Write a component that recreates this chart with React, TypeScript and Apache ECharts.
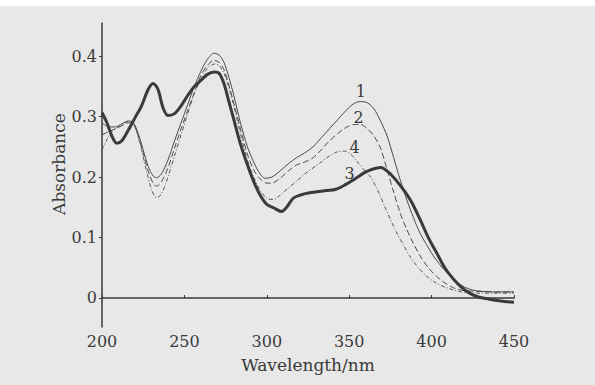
import React, { useEffect, useRef } from "react";
import * as echarts from "echarts";

// Curve 1 (thin solid)
const wl1 = [200, 204, 208, 212, 216, 219, 222, 225, 228, 231, 233, 236, 240, 244, 248, 252, 256, 260, 264, 268, 271, 274, 277, 280, 284, 288, 292, 296, 299, 303, 308, 313, 318, 323, 328, 333, 338, 343, 348, 353, 357, 361, 365, 369, 373, 377, 381, 385, 389, 393, 397, 401, 405, 410, 415, 420, 425, 430, 440, 450];
const abs1 = [0.29, 0.283, 0.283, 0.288, 0.293, 0.29, 0.272, 0.245, 0.218, 0.202, 0.199, 0.205, 0.228, 0.26, 0.29, 0.32, 0.35, 0.375, 0.395, 0.405, 0.402, 0.39, 0.365, 0.335, 0.29, 0.252, 0.225, 0.205, 0.198, 0.2, 0.21, 0.222, 0.232, 0.24, 0.25, 0.265, 0.28, 0.295, 0.31, 0.322, 0.325, 0.323, 0.313, 0.293, 0.268, 0.232, 0.195, 0.162, 0.133, 0.107, 0.088, 0.07, 0.055, 0.04, 0.027, 0.018, 0.013, 0.011, 0.01, 0.01];

// Curve 2 (dashed)
const wl2 = [200, 204, 208, 212, 216, 219, 222, 225, 228, 231, 233, 236, 240, 244, 248, 252, 256, 260, 264, 268, 271, 274, 277, 280, 284, 288, 292, 296, 300, 303, 308, 313, 318, 323, 328, 333, 338, 343, 348, 353, 357, 361, 365, 369, 373, 377, 381, 385, 389, 393, 398, 403, 408, 414, 420, 430, 440, 450];
const abs2 = [0.27, 0.275, 0.28, 0.285, 0.29, 0.288, 0.268, 0.24, 0.21, 0.19, 0.185, 0.192, 0.215, 0.248, 0.28, 0.31, 0.34, 0.368, 0.385, 0.393, 0.39, 0.378, 0.352, 0.322, 0.28, 0.24, 0.212, 0.197, 0.19, 0.19, 0.198, 0.21, 0.22, 0.225, 0.232, 0.245, 0.26, 0.272, 0.282, 0.287, 0.287, 0.28, 0.268, 0.248, 0.212, 0.175, 0.14, 0.113, 0.09, 0.07, 0.05, 0.036, 0.025, 0.016, 0.012, 0.011, 0.01, 0.01];

// Curve 3 (thick solid)
const wl3 = [200, 203, 206, 209, 212, 216, 220, 224, 228, 231, 234, 237, 240, 244, 248, 252, 256, 260, 264, 268, 271, 274, 277, 280, 284, 288, 292, 296, 300, 305, 309, 312, 316, 320, 326, 334, 342, 348, 354, 359, 364, 369, 374, 379, 384, 388, 393, 398, 403, 408, 413, 418, 423, 428, 435, 442, 450];
const abs3 = [0.307, 0.29, 0.268, 0.256, 0.26, 0.278, 0.298, 0.318, 0.345, 0.355, 0.345, 0.315, 0.302, 0.305, 0.318, 0.335, 0.35, 0.36, 0.37, 0.374, 0.372, 0.355, 0.325, 0.295, 0.255, 0.222, 0.193, 0.17, 0.155, 0.148, 0.143, 0.15, 0.165, 0.17, 0.174, 0.177, 0.18, 0.188, 0.198, 0.207, 0.213, 0.216, 0.208, 0.193, 0.175, 0.158, 0.13, 0.1, 0.075, 0.05, 0.032, 0.018, 0.008, 0.002, -0.002, -0.005, -0.007];

// Curve 4 (dash-dot)
const wl4 = [200, 203, 206, 210, 214, 218, 221, 224, 227, 230, 233, 236, 240, 244, 248, 252, 256, 260, 264, 268, 271, 274, 277, 280, 284, 288, 292, 296, 300, 304, 308, 313, 318, 323, 328, 333, 338, 343, 347, 351, 355, 359, 363, 367, 371, 375, 379, 383, 387, 392, 397, 402, 408, 418, 430, 440, 450];
const abs4 = [0.245, 0.262, 0.275, 0.283, 0.29, 0.292, 0.275, 0.245, 0.21, 0.18, 0.166, 0.172, 0.2, 0.235, 0.27, 0.305, 0.338, 0.362, 0.38, 0.387, 0.385, 0.372, 0.348, 0.318, 0.272, 0.23, 0.2, 0.178, 0.165, 0.163, 0.17, 0.182, 0.193, 0.205, 0.215, 0.225, 0.235, 0.242, 0.243, 0.238, 0.225, 0.212, 0.2, 0.18, 0.155, 0.13, 0.107, 0.087, 0.068, 0.05, 0.036, 0.026, 0.018, 0.01, 0.008, 0.008, 0.008];

const curveNames = ["1", "2", "3", "4"];
// label anchor positions [wavelength, absorbance]
const labelPos = [
  [357, 0.341],
  [355.7, 0.299],
  [350.2, 0.2065],
  [353.3, 0.2495],
];

const xTicks = [200, 250, 300, 350, 400, 450];
const yTicks = [0, 0.1, 0.2, 0.3, 0.4];
const yName = "Absorbance";
const xName = "Wavelength/nm";

const FONT = "DejaVu Serif";
const INK = "#3a3a3a";

function pairs(x: number[], y: number[]) {
  return x.map((v, i) => [v, y[i]]);
}

export default function App() {
  const ref = useRef<HTMLDivElement>(null);
  useEffect(() => {
    if (!ref.current) return;
    const chart = echarts.init(ref.current, undefined, { renderer: "svg" });
    const mk = (i: number) => ({
      symbol: "circle",
      symbolSize: 0,
      silent: true,
      label: {
        show: true,
        position: "inside",
        formatter: curveNames[i],
        fontFamily: FONT,
        fontSize: 16,
        color: INK,
      },
      data: [{ coord: labelPos[i] }],
    });
    const series = [
      { data: pairs(wl1, abs1), lw: 1, type: "solid" as any, color: "#4a4a4a" },
      { data: pairs(wl2, abs2), lw: 1, type: [6, 3] as any, color: "#4a4a4a" },
      { data: pairs(wl3, abs3), lw: 3, type: "solid" as any, color: "#3a3a3a" },
      { data: pairs(wl4, abs4), lw: 1, type: [4, 2, 1, 2] as any, color: "#555555" },
    ].map((s, i) => ({
      type: "line",
      name: curveNames[i],
      data: s.data,
      showSymbol: false,
      smooth: 0.3,
      lineStyle: { width: s.lw, type: s.type, color: s.color },
      markPoint: mk(i),
      z: i === 2 ? 3 : 2,
    }));
    chart.setOption({
      animation: false,
      backgroundColor: "#e8e8e8",
      graphic: [
        { type: "rect", shape: { x: 0, y: 0, width: 595, height: 6 }, style: { fill: "#ffffff" } },
        {
          type: "text",
          x: 59,
          y: 164,
          rotation: Math.PI / 2,
          style: {
            text: yName,
            fontFamily: FONT,
            fontSize: 17,
            fill: INK,
            align: "center",
            verticalAlign: "middle",
          },
        },
      ],
      grid: { left: 102, right: 81, top: 23, bottom: 58 },
      xAxis: {
        type: "value",
        min: 200,
        max: 450,
        interval: 50,
        name: xName,
        nameLocation: "middle",
        nameGap: 29,
        nameTextStyle: { fontFamily: FONT, fontSize: 17, color: INK },
        axisLine: { lineStyle: { color: INK, width: 1.5 } },
        axisTick: { show: true, inside: true, length: 3, lineStyle: { color: INK } },
        axisLabel: {
          customValues: xTicks,
          fontFamily: FONT,
          fontSize: 16,
          color: INK,
          margin: 6,
        },
        splitLine: { show: false },
      },
      yAxis: {
        type: "value",
        min: -0.048,
        max: 0.455,
        axisLine: { show: true, lineStyle: { color: INK, width: 1.5 } },
        axisTick: { show: true, customValues: yTicks, length: 3, lineStyle: { color: INK } },
        axisLabel: {
          customValues: yTicks,
          formatter: (v: number) => (v === 0 ? "0" : v.toFixed(1)),
          fontFamily: FONT,
          fontSize: 16,
          color: INK,
          margin: 5,
        },
        splitLine: { show: false },
      },
      series,
    });
    return () => chart.dispose();
  }, []);
  return (
    <div
      ref={ref}
      style={{ position: "fixed", left: 0, top: 0, width: 595, height: 385 }}
    />
  );
}
